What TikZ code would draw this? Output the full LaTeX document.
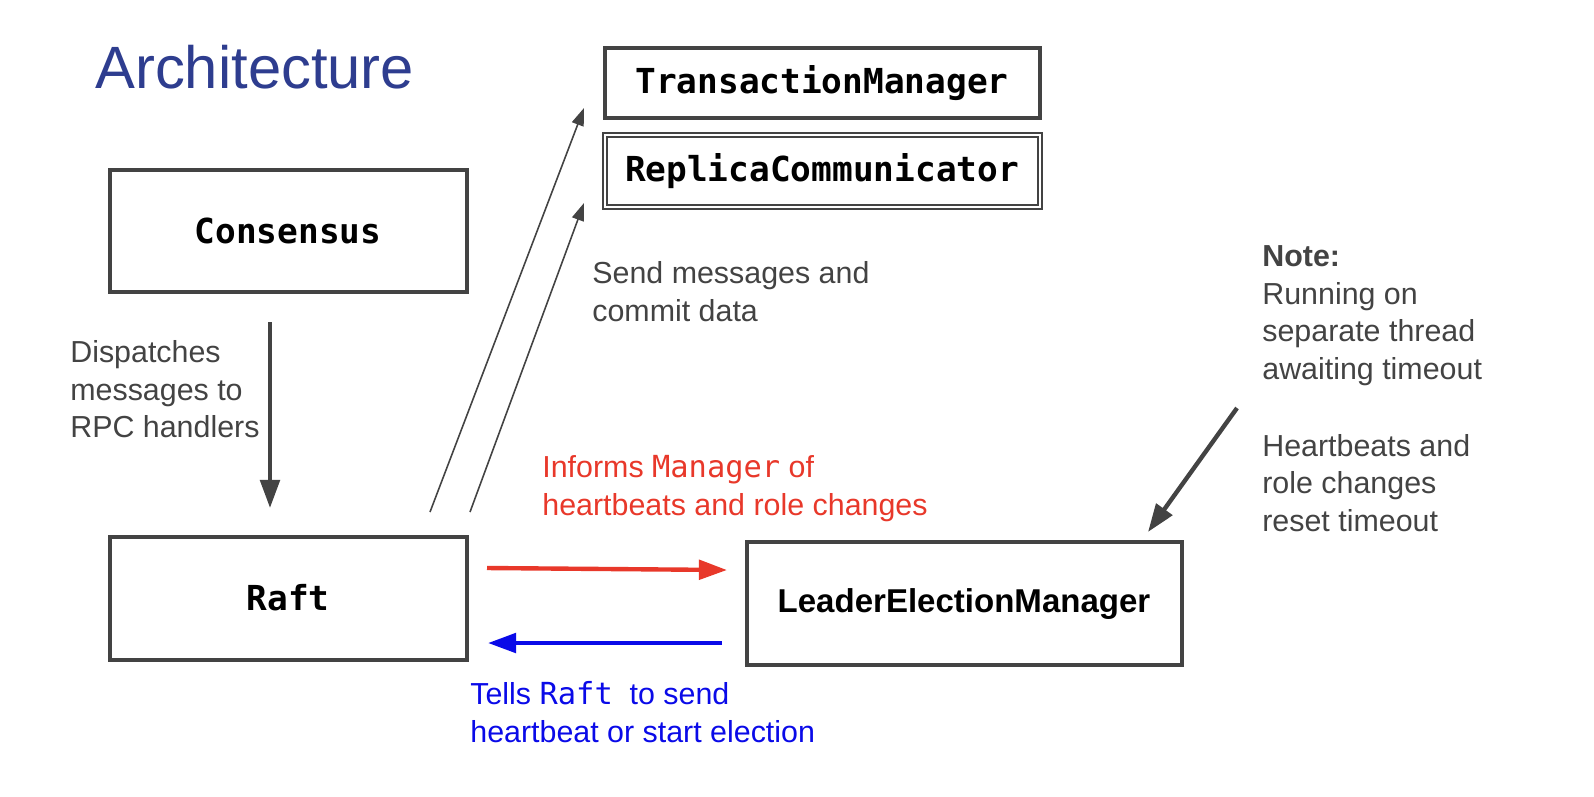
\documentclass[tikz,border=0pt]{standalone}
\usepackage{fontspec}
\setmainfont{Liberation Sans}
\setmonofont{DejaVu Sans Mono}
\usetikzlibrary{arrows.meta}
\definecolor{ink}{HTML}{434343}
\definecolor{titleblue}{HTML}{2E3D8F}
\definecolor{informred}{HTML}{E8382A}
\definecolor{tellblue}{HTML}{0A0AE8}
\begin{document}
\begin{tikzpicture}[x=0.02cm,y=-0.02cm,
    box/.style = {draw=ink, line width=2.2pt, inner sep=0pt},
    code/.style = {font=\fontsize{19.6}{22}\selectfont\ttfamily\bfseries},
    body/.style = {align=left, inner sep=0pt, anchor=north west, text=ink,
                   font=\fontsize{17.3}{21.5}\selectfont},
    thick arrow/.style = {-{Triangle[length=16pt,width=11pt]}, line width=2.5pt}]

\node[anchor=base west, inner sep=0pt, text=titleblue, font=\fontsize{34}{38}\selectfont] (title) at (95,88) {Architecture};

% boxes
\draw[box] (605,48) rectangle (1040,118);
\node[code] (tm) at (822,83) {TransactionManager};
\draw[box, double=white, double distance=1.2pt, line width=0.9pt] (605,135) rectangle (1040,207);
\node[code] (rc) at (822,171) {ReplicaCommunicator};
\draw[box] (110,170) rectangle (467,292);
\node[code] (cons) at (288,231) {Consensus};
\draw[box] (110,537) rectangle (467,660);
\node[code] (raft) at (288,598) {Raft};
\draw[box] (747,542) rectangle (1182,665);
\node[font=\fontsize{18.8}{22}\selectfont\bfseries] (lem) at (964,604) {LeaderElectionManager};

% connector ends
\coordinate (consout) at (270,322);
\coordinate (raftin) at (270,508);
\coordinate (raftup1) at (430,512);
\coordinate (raftup2) at (470,512);
\coordinate (tmin) at (584,108);
\coordinate (rcin) at (584,203);
\coordinate (redout) at (487,568);
\coordinate (redin) at (727,570);
\coordinate (blueout) at (722,643);
\coordinate (bluein) at (488,643);
\coordinate (noteout) at (1237,408);
\coordinate (notein) at (1148,532);

\draw[thick arrow, ink] (consout) -- (raftin);
\draw[ink, line width=0.9pt, -{Triangle[length=10pt,width=7pt]}] (raftup1) -- (tmin);
\draw[ink, line width=0.9pt, -{Triangle[length=10pt,width=7pt]}] (raftup2) -- (rcin);
\draw[thick arrow, informred] (redout) -- (redin);
\draw[thick arrow, tellblue] (blueout) -- (bluein);
\draw[thick arrow, ink] (noteout) -- (notein);

% labels
\node[body] (disp) at (70,340) {Dispatches\\messages to\\RPC handlers};
\node[body] (send) at (592,261) {Send messages and\\commit data};
\node[body, text=informred] (inform) at (542,455) {Informs \texttt{\mdseries Manager} of\\heartbeats and role changes};
\node[body, text=tellblue] (tell) at (470,681) {Tells \texttt{\mdseries Raft}\ \ to send\\heartbeat or start election};
\node[body] (note) at (1262,245) {\textbf{Note:}\\Running on\\separate thread\\awaiting timeout\\[22pt]Heartbeats and\\role changes\\reset timeout};
\pgfresetboundingbox
\useasboundingbox (0,0) rectangle (1594,796);
\end{tikzpicture}
\end{document}
